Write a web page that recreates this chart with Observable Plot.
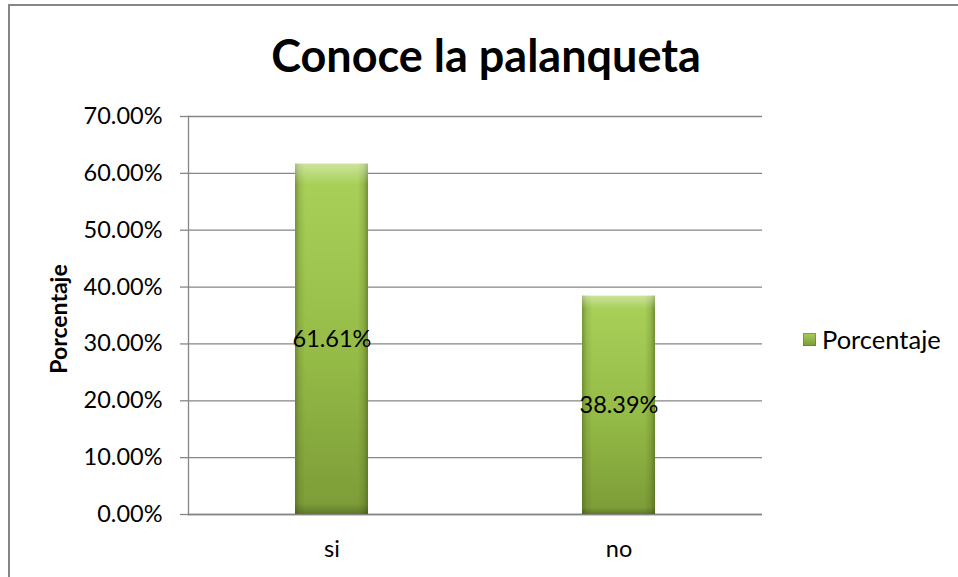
<!DOCTYPE html>
<html>
<head>
<meta charset="utf-8">
<script src="https://cdn.jsdelivr.net/npm/d3@7"></script>
<script src="https://cdn.jsdelivr.net/npm/@observablehq/plot@0.6"></script>
<style>
  html, body { margin: 0; padding: 0; background: #fff; }
  #wrap { position: relative; width: 958px; height: 577px; overflow: hidden; font-family: Lato, "Noto Sans", sans-serif; }
  #border { position: absolute; left: 8px; top: 4px; width: 1000px; height: 700px; border-top: 2px solid #868686; border-left: 2px solid #868686; box-sizing: border-box; }
  #title { position: absolute; left: 0; width: 972px; top: 28px; text-align: center; font-weight: 700; font-size: 45px; line-height: 54px; color: #000; }
  #legend { position: absolute; left: 803px; top: 324px; display: flex; align-items: center; font-size: 25.5px; color: #000; }
  #legend .sw { width: 13px; height: 13px; margin-right: 6px; background: linear-gradient(to bottom, #a8cf57, #7a9a37); box-shadow: inset 0 0 0 1px rgba(80,100,30,0.4); }
  #chart { position: absolute; left: 0; top: 0; }
</style>
</head>
<body>
<div id="wrap">
  <div id="chart"></div>
  <div id="border"></div>
  <div id="title">Conoce la palanqueta</div>
  <div id="legend"><div class="sw"></div><span>Porcentaje</span></div>
</div>
<script>
const categories = ["si", "no"];
const values = [0.6161, 0.3839];
const valueLabels = ["61.61%", "38.39%"];
const yTicks = [0, 0.1, 0.2, 0.3, 0.4, 0.5, 0.6, 0.7];
const yTitle = "Porcentaje";

const data = categories.map((c, i) => ({cat: c, value: values[i], label: valueLabels[i]}));
const fmt = d3.format(".2%");
const font = "Lato, 'Noto Sans', sans-serif";

const plot = Plot.plot({
  width: 958,
  height: 577,
  marginLeft: 188,
  marginRight: 196,
  marginTop: 116,
  marginBottom: 63,
  style: {fontFamily: font, fontSize: "23.5px", color: "#000", background: "transparent"},
  x: {domain: categories, paddingInner: 0.746, paddingOuter: 0.373, label: null},
  y: {domain: [0, 0.7], label: null},
  marks: [
    Plot.gridY(yTicks, {stroke: "#868686", strokeOpacity: 1, strokeWidth: 1.3}),
    Plot.axisY(yTicks, {tickSize: 8, tickPadding: 18, tickFormat: fmt, stroke: "#868686", strokeWidth: 1.3, fill: "#000", fontSize: 23.5, label: null}),
    Plot.frame({anchor: "left", stroke: "#868686", strokeWidth: 1.3}),
    Plot.ruleY([0], {stroke: "#868686", strokeWidth: 1.5}),
    Plot.axisX({tickSize: 0, tickPadding: 26, fill: "#000", fontSize: 23.5, label: null}),
    Plot.barY(data, {x: "cat", y: "value", fill: "url(#gV)"}),
    Plot.barY(data, {x: "cat", y: "value", fill: "url(#gH)"}),
    Plot.barY(data, {x: "cat", y: "value", fill: "url(#gT)"}),
    Plot.text(data, {x: "cat", y: d => d.value / 2, text: "label", fill: "#000", fontSize: 23.5}),
  ]
});

const svg = d3.select(plot);
const defs = svg.insert("defs", ":first-child");
const gV = defs.append("linearGradient").attr("id", "gV").attr("x1", 0).attr("y1", 0).attr("x2", 0).attr("y2", 1);
gV.append("stop").attr("offset", "0%").attr("stop-color", "#aad25a");
gV.append("stop").attr("offset", "55%").attr("stop-color", "#95bb47");
gV.append("stop").attr("offset", "100%").attr("stop-color", "#7b9b37");
const gH = defs.append("linearGradient").attr("id", "gH").attr("x1", 0).attr("y1", 0).attr("x2", 1).attr("y2", 0);
gH.append("stop").attr("offset", "0%").attr("stop-color", "#3c4f10").attr("stop-opacity", 0.45);
gH.append("stop").attr("offset", "6%").attr("stop-color", "#3c4f10").attr("stop-opacity", 0.15);
gH.append("stop").attr("offset", "14%").attr("stop-color", "#3c4f10").attr("stop-opacity", 0);
gH.append("stop").attr("offset", "86%").attr("stop-color", "#3c4f10").attr("stop-opacity", 0);
gH.append("stop").attr("offset", "94%").attr("stop-color", "#3c4f10").attr("stop-opacity", 0.18);
gH.append("stop").attr("offset", "100%").attr("stop-color", "#3c4f10").attr("stop-opacity", 0.5);
const gT = defs.append("linearGradient").attr("id", "gT").attr("x1", 0).attr("y1", 0).attr("x2", 0).attr("y2", 1);
gT.append("stop").attr("offset", "0%").attr("stop-color", "#ffffff").attr("stop-opacity", 0.4);
gT.append("stop").attr("offset", "4%").attr("stop-color", "#ffffff").attr("stop-opacity", 0.12);
gT.append("stop").attr("offset", "6%").attr("stop-color", "#ffffff").attr("stop-opacity", 0);
gT.append("stop").attr("offset", "97%").attr("stop-color", "#000000").attr("stop-opacity", 0);
gT.append("stop").attr("offset", "100%").attr("stop-color", "#000000").attr("stop-opacity", 0.22);

// rotated y-axis title
svg.append("text")
  .attr("transform", "translate(67,319) rotate(-90)")
  .attr("text-anchor", "middle")
  .attr("font-family", font)
  .attr("font-weight", 700)
  .attr("font-size", 23)
  .attr("fill", "#000")
  .text(yTitle);

document.getElementById("chart").appendChild(plot);
</script>
</body>
</html>
